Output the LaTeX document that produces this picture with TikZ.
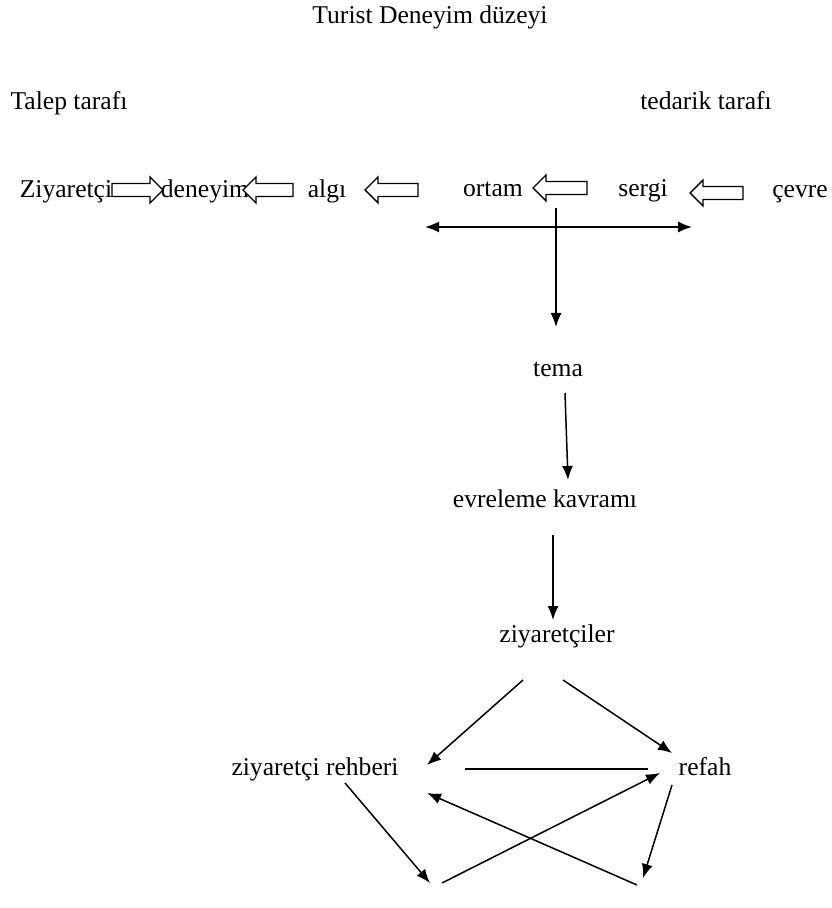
\documentclass[tikz,border=0pt]{standalone}
\usepackage{fontspec}
\setmainfont{Liberation Serif}
\usetikzlibrary{arrows.meta}
\newcommand\blockarr[4]{% tip x, tail x, y, direction (+1 points right, -1 points left)
  \draw[barrow] (#1,#3) -- ({#1-#4*13},{#3-13}) -- ({#1-#4*13},{#3-6.5}) -- (#2,{#3-6.5})
     -- (#2,{#3+6.5}) -- ({#1-#4*13},{#3+6.5}) -- ({#1-#4*13},{#3+13}) -- cycle;}
\begin{document}
\begin{tikzpicture}[x=0.5pt,y=-0.5pt,
  lbl/.style={anchor=base,inner sep=0pt,font=\fontsize{12.8}{15}\selectfont},
  barrow/.style={draw,line width=0.7pt,fill=white,line join=miter},
  conn/.style={line width=0.75pt,-{Latex[length=7pt,width=5.5pt]}},
  plain/.style={line width=0.75pt}]
\useasboundingbox (0,0) rectangle (831,908);
% texts
\node[lbl] (title) at (430,24) {Turist Deneyim düzeyi};
\node[lbl] (talep) at (69,110) {Talep tarafı};
\node[lbl] (tedarik) at (706,110) {tedarik tarafı};
\node[lbl] (ziy) at (66,198) {Ziyaretçi};
\node[lbl] (den) at (205,198) {deneyim};
\node[lbl] (algi) at (327,198) {algı};
\node[lbl] (ortam) at (493,197) {ortam};
\node[lbl] (sergi) at (643,197) {sergi};
\node[lbl] (cevre) at (800,198) {çevre};
\node[lbl] (tema) at (558,377) {tema};
\node[lbl] (evr) at (545,507) {evreleme kavramı};
\node[lbl] (ziyler) at (557,642) {ziyaretçiler};
\node[lbl] (rehber) at (315,775) {ziyaretçi rehberi};
\node[lbl] (refah) at (705,775) {refah};
% block arrows
\blockarr{163}{112}{190}{1}
\blockarr{243}{293}{190}{-1}
\blockarr{365}{418}{190}{-1}
\blockarr{533}{587}{188}{-1}
\blockarr{690}{743}{193}{-1}
% coordinates
\coordinate (v0) at (556,208);
\coordinate (v1) at (556,327);
\coordinate (hL) at (425,227);
\coordinate (hR) at (692,227);
\coordinate (t0) at (565,393);
\coordinate (t1) at (568,480);
\coordinate (e0) at (553,535);
\coordinate (e1) at (553,620);
\coordinate (z0) at (523,680);
\coordinate (z1) at (427,765);
\coordinate (z2) at (563,680);
\coordinate (z3) at (672,753);
\coordinate (m0) at (465,769);
\coordinate (m1) at (648,769);
\coordinate (r0) at (345,783);
\coordinate (b1) at (430,883);
\coordinate (b1s) at (442,883);
\coordinate (f1) at (660,773);
\coordinate (b2s) at (637,885);
\coordinate (r1) at (427,793);
\coordinate (f0) at (672,785);
\coordinate (b2) at (643,878);
% connectors
\draw[conn] (v0) -- (v1);
\draw[conn,{Latex[length=7pt,width=5.5pt]}-{Latex[length=7pt,width=5.5pt]}] (hL) -- (hR);
\draw[conn] (t0) -- (t1);
\draw[conn] (e0) -- (e1);
\draw[conn] (z0) -- (z1);
\draw[conn] (z2) -- (z3);
\draw[plain] (m0) -- (m1);
\draw[conn] (r0) -- (b1);
\draw[conn] (b1s) -- (f1);
\draw[conn] (b2s) -- (r1);
\draw[conn] (f0) -- (b2);
\end{tikzpicture}
\end{document}
